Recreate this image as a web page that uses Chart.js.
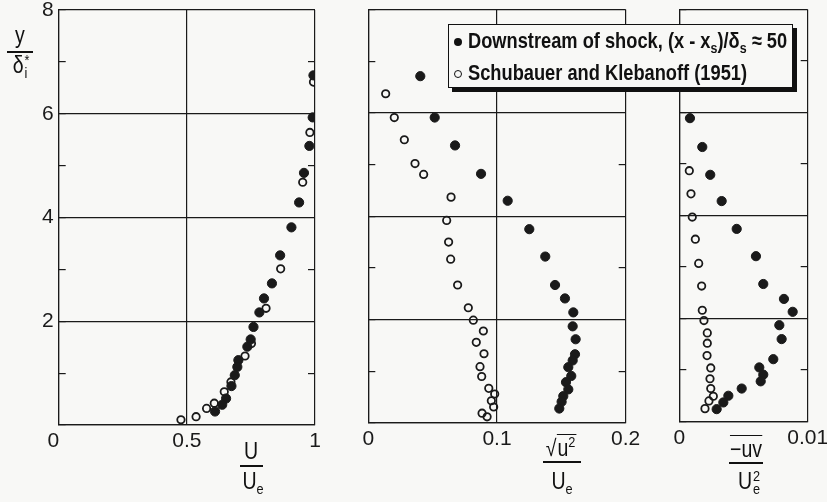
<!DOCTYPE html>
<html>
<head>
<meta charset="utf-8">
<script src="https://cdn.jsdelivr.net/npm/chart.js@4.4.1/dist/chart.umd.min.js"></script>
<style>
body{margin:0;background:#f8f8f6;}
#contenedor{position:relative;width:827px;height:502px;overflow:hidden;color:#111;font-family:'Liberation Sans',Arial,sans-serif;}
#contenedor canvas{position:absolute;left:0;top:0;}
.txt{position:absolute;white-space:nowrap;font-size:23px;line-height:23px;transform:translateX(-50%) scaleX(0.85);}
.raya{position:absolute;height:2px;background:#111;}
.pila{display:inline-flex;flex-direction:column;align-items:flex-start;font-size:15px;line-height:13px;vertical-align:8px;margin-left:1px;}
#leyenda{position:absolute;left:448px;top:24px;width:343px;height:62px;background:#f8f8f6;
	border:1.5px solid #111;box-shadow:4px 4px 0 #111;font-weight:bold;font-size:22px;line-height:22px;}
#leyenda .fila{position:absolute;left:19px;white-space:nowrap;transform:scaleX(0.83);transform-origin:left center;}
#leyenda .punto{position:absolute;left:5px;width:8px;height:8px;border-radius:50%;box-sizing:border-box;}
sub{font-size:15px;vertical-align:-5px;line-height:0;}
sup{font-size:15px;line-height:0;}
</style>
</head>
<body>
<div id="contenedor">
	<canvas id="panelU" width="827" height="502"></canvas>
	<canvas id="panelUU" width="827" height="502"></canvas>
	<canvas id="panelUV" width="827" height="502"></canvas>

	<div class="txt" style="left:20px;top:24px;">y</div>
	<div class="raya" style="left:7px;top:51px;width:26px;"></div>
	<div class="txt" style="left:21px;top:53px;">δ<span class="pila"><span>*</span><span>i</span></span></div>

	<div class="txt" style="left:251px;top:440px;">U</div>
	<div class="raya" style="left:240px;top:465px;width:23px;"></div>
	<div class="txt" style="left:253px;top:470px;">U<sub>e</sub></div>

	<div class="txt" style="left:561px;top:437px;">√<span style="border-top:1.5px solid #111;padding:0 1px;">u<sup>2</sup></span></div>
	<div class="raya" style="left:543px;top:461px;width:38px;"></div>
	<div class="txt" style="left:562px;top:470px;">U<sub>e</sub></div>

	<div class="txt" style="left:746px;top:438px;"><span style="border-top:1.5px solid #111;">−uv</span></div>
	<div class="raya" style="left:729px;top:462px;width:34px;"></div>
	<div class="txt" style="left:749px;top:469px;">U<span class="pila"><span>2</span><span>e</span></span></div>

	<div id="leyenda">
		<span class="punto" style="top:12.5px;background:#111;"></span>
		<div class="fila" style="top:5px;">Downstream of shock, (x - x<sub>s</sub>)/δ<sub>s</sub> ≈ 50</div>
		<span class="punto" style="top:44.5px;border:1.5px solid #111;"></span>
		<div class="fila" style="top:37px;">Schubauer and Klebanoff (1951)</div>
	</div>
</div>
<script>
// U/Ue
var U_choqueX=[0.994,0.991,0.978,0.957,0.938,0.908,0.864,0.832,0.801,0.783,0.760,0.749,0.736,0.701,0.697,0.687,0.674,0.653,0.638,0.610];
var U_choqueY=[6.74,5.93,5.38,4.86,4.29,3.81,3.27,2.73,2.44,2.17,1.89,1.65,1.51,1.25,1.12,0.96,0.75,0.51,0.39,0.26];
var U_schubX=[0.994,0.980,0.952,0.866,0.809,0.752,0.727,0.672,0.646,0.607,0.577,0.536,0.477];
var U_schubY=[6.61,5.64,4.68,3.01,2.25,1.57,1.33,0.83,0.64,0.42,0.32,0.16,0.10];

// sqrt(u'^2)/Ue
var UU_choqueX=[0.0404,0.0516,0.0674,0.0876,0.1083,0.1251,0.1375,0.1451,0.1528,0.1593,0.1588,0.1611,0.1606,0.1588,0.1554,0.1577,0.1536,0.1554,0.1515,0.1502,0.1484];
var UU_choqueY=[6.71,5.91,5.37,4.82,4.30,3.75,3.22,2.67,2.41,2.14,1.87,1.62,1.33,1.21,1.08,0.91,0.79,0.65,0.52,0.41,0.28];
var UU_schubX=[0.0135,0.0202,0.0280,0.0363,0.0430,0.0643,0.0609,0.0624,0.0640,0.0694,0.0777,0.0816,0.0894,0.0839,0.0899,0.0868,0.0881,0.0936,0.0982,0.0956,0.0974,0.0884,0.0923];
var UU_schubY=[6.37,5.91,5.48,5.02,4.81,4.37,3.92,3.50,3.17,2.67,2.23,1.99,1.78,1.56,1.34,1.09,0.90,0.67,0.56,0.43,0.31,0.19,0.12];

// -uv/Ue^2
var UV_choqueX=[0.00083,0.00179,0.00241,0.00330,0.00447,0.00597,0.00654,0.00815,0.00883,0.00779,0.00797,0.00732,0.00623,0.00654,0.00634,0.00486,0.00382,0.00343,0.00291];
var UV_choqueY=[5.89,5.33,4.79,4.28,3.74,3.21,2.67,2.38,2.13,1.87,1.60,1.21,1.05,0.91,0.78,0.64,0.50,0.37,0.24];
var UV_schubX=[0.00078,0.00091,0.00101,0.00125,0.00151,0.00174,0.00179,0.00192,0.00218,0.00218,0.00216,0.00245,0.00239,0.00245,0.00265,0.00231,0.00200];
var UV_schubY=[4.87,4.42,3.97,3.54,3.07,2.63,2.16,1.96,1.72,1.52,1.28,1.04,0.83,0.64,0.49,0.40,0.25];

var Y_MAX=8;
var FUENTE="'Liberation Sans',Arial,sans-serif";
var NEGRO='#1a1a1a';

function pares(xs,ys){
	var arr=new Array();
	for(var i=0;i<xs.length;i++){
		arr.push({x:xs[i],y:ys[i]});
	}
	return arr;
}

function crearPanel(id,llenoX,llenoY,vacioX,vacioY,cfg){
	// ancho del eje y: solo el primer panel lleva etiquetas
	var anchoY=cfg.etiquetasY?30:0;
	var config={
		type:'scatter',
		data:{
			datasets:[
				{label:'Downstream of shock',data:pares(llenoX,llenoY),pointRadius:4.6,pointBackgroundColor:NEGRO,pointBorderColor:NEGRO,pointBorderWidth:1},
				{label:'Schubauer and Klebanoff (1951)',data:pares(vacioX,vacioY),pointRadius:3.7,pointBackgroundColor:'rgba(0,0,0,0)',pointBorderColor:NEGRO,pointBorderWidth:1.8}
			]
		},
		options:{
			responsive:false,
			animation:false,
			devicePixelRatio:1,
			events:[],
			layout:{padding:{left:cfg.izq-anchoY,right:827-cfg.der,top:cfg.arriba,bottom:502-cfg.abajo-30}},
			plugins:{legend:{display:false},tooltip:{enabled:false}},
			scales:{
				x:{
					type:'linear',min:0,max:cfg.maxX,
					ticks:{stepSize:cfg.paso,color:NEGRO,padding:4,maxRotation:0,font:{family:FUENTE,size:21},
						callback:function(v){
							if(v===0 && cfg.ceroIzq){return '0\u2002';}
							return String(parseFloat(v.toFixed(4)));
						}},
					grid:{color:NEGRO,lineWidth:1.2,drawTicks:false},
					border:{color:NEGRO,width:1.2},
					afterFit:function(s){s.height=30;s.paddingLeft=0;s.paddingRight=0;}
				},
				y:{
					type:'linear',min:0,max:Y_MAX,position:'left',
					ticks:{stepSize:1,display:cfg.etiquetasY,color:NEGRO,padding:12,font:{family:FUENTE,size:21},
						callback:function(v){return (v%2===0 && v>0)?String(v):'';}},
					grid:{lineWidth:1.2,tickLength:-7,tickColor:NEGRO,
						color:function(c){return (c.tick && c.tick.value%2===0)?NEGRO:'rgba(0,0,0,0)';}},
					border:{color:NEGRO,width:1.2},
					afterFit:function(s){s.width=anchoY;s.paddingTop=0;s.paddingBottom=0;}
				},
				y2:{
					type:'linear',min:0,max:Y_MAX,position:'right',
					ticks:{stepSize:1,display:false},
					grid:{drawOnChartArea:false,lineWidth:1.2,tickLength:-7,
						tickColor:function(c){return (c.tick && c.tick.value%2!==0)?NEGRO:'rgba(0,0,0,0)';}},
					border:{display:false},
					afterFit:function(s){s.width=0;s.paddingTop=0;s.paddingBottom=0;}
				}
			}
		}
	};
	var canvas=document.getElementById(id).getContext('2d');
	new Chart(canvas,config);
}

crearPanel('panelU',U_choqueX,U_choqueY,U_schubX,U_schubY,{izq:58.7,der:315,arriba:10,abajo:425,maxX:1,paso:0.5,etiquetasY:true,ceroIzq:true});
crearPanel('panelUU',UU_choqueX,UU_choqueY,UU_schubX,UU_schubY,{izq:368.3,der:625.7,arriba:9.5,abajo:423,maxX:0.2,paso:0.1,etiquetasY:false,ceroIzq:false});
crearPanel('panelUV',UV_choqueX,UV_choqueY,UV_schubX,UV_schubY,{izq:679.3,der:807.7,arriba:9.5,abajo:421.5,maxX:0.01,paso:0.01,etiquetasY:false,ceroIzq:false});
</script>
</body>
</html>
